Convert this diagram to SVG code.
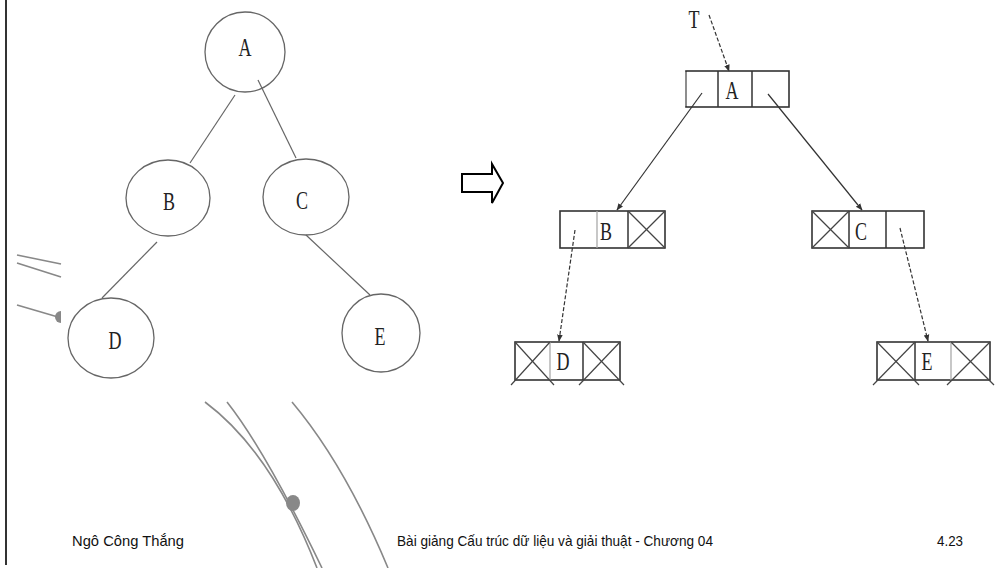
<svg xmlns="http://www.w3.org/2000/svg" width="999" height="568" viewBox="0 0 999 568">
<style>
.bg{fill:#fff}
.circ{fill:none;stroke:#666;stroke-width:1.3}
.edge{stroke:#666;stroke-width:1.2;fill:none}
.lbl{font-family:"Liberation Serif","Times New Roman",serif;font-size:25px;fill:#222;text-anchor:middle}
.box{fill:#fff;stroke:#333;stroke-width:1.6}
.div{stroke:#333;stroke-width:1.5}
.ldiv{stroke:#aaa;stroke-width:1.3}
.x{stroke:#444;stroke-width:1.2}
.ptr{stroke:#333;stroke-width:1.2;fill:none}
.dash{stroke-dasharray:4 2}
.deco{stroke:#888;stroke-width:1.6;fill:none}
.foot{font-family:"Liberation Sans",Arial,sans-serif;font-size:15px;fill:#111}
</style>
<defs>
<marker id="ah" viewBox="0 0 10 10" refX="9" refY="5" markerWidth="7" markerHeight="7" orient="auto" markerUnits="userSpaceOnUse">
<path d="M0,1 L10,5 L0,9 Z" fill="#333"/>
</marker>
</defs>
<rect class="bg" x="0" y="0" width="999" height="568"/>
<line x1="6" y1="0" x2="6" y2="565" stroke="#333" stroke-width="2"/>

<g id="decoration">
<line class="deco" x1="17" y1="255" x2="61" y2="264"/>
<line class="deco" x1="17" y1="263" x2="61" y2="277"/>
<line class="deco" x1="17" y1="305" x2="58" y2="317"/>
<path d="M61,311 A6,6 0 0 0 61,323 Z" fill="#888"/>
<path class="deco" d="M205,402 Q272,452 317,568"/>
<path class="deco" d="M227,402 Q265,450 322,568"/>
<path class="deco" d="M292,402 Q345,465 388,568"/>
<ellipse cx="293" cy="503" rx="7" ry="8" fill="#888"/>
</g>

<g id="tree-edges">
<line class="edge" x1="235" y1="95" x2="190" y2="163"/>
<line class="edge" x1="258" y1="80" x2="296" y2="158"/>
<line class="edge" x1="157" y1="242" x2="102" y2="298"/>
<line class="edge" x1="306" y1="235" x2="370" y2="295"/>
</g>
<g id="tA"><ellipse class="circ" cx="245" cy="52" rx="40" ry="40"/><text class="lbl" transform="translate(245,56) scale(0.72,1)">A</text></g>
<g id="tB"><ellipse class="circ" cx="168" cy="198" rx="42" ry="38"/><text class="lbl" transform="translate(169,210) scale(0.72,1)">B</text></g>
<g id="tC"><ellipse class="circ" cx="306" cy="197" rx="43" ry="38"/><text class="lbl" transform="translate(302,209) scale(0.72,1)">C</text></g>
<g id="tD"><ellipse class="circ" cx="111" cy="338" rx="43" ry="40"/><text class="lbl" transform="translate(115,349) scale(0.72,1)">D</text></g>
<g id="tE"><ellipse class="circ" cx="381" cy="333" rx="39" ry="39"/><text class="lbl" transform="translate(380,345) scale(0.72,1)">E</text></g>

<g id="transform-arrow">
<polygon points="462,174 492,174 492,164 503,183 492,203 492,192 462,192" fill="#fff" stroke="#000" stroke-width="2"/>
</g>

<g id="T"><text class="lbl" transform="translate(694,28) scale(0.72,1)">T</text></g>

<g id="nA">
<rect class="box" x="686" y="71" width="103" height="36"/>
<line class="ldiv" x1="686" y1="72" x2="686" y2="106"/>
<line class="div" x1="718" y1="71" x2="718" y2="107"/>
<line class="div" x1="752" y1="71" x2="752" y2="107"/>
<text class="lbl" transform="translate(732,99) scale(0.72,1)">A</text>
</g>
<g id="nB">
<rect class="box" x="560" y="211" width="105" height="37"/>
<line class="ldiv" x1="597" y1="211" x2="597" y2="248"/>
<line class="div" x1="628" y1="211" x2="628" y2="248"/>
<line class="x" x1="628" y1="211" x2="665" y2="248"/>
<line class="x" x1="665" y1="211" x2="628" y2="248"/>
<text class="lbl" transform="translate(606,240) scale(0.72,1)">B</text>
</g>
<g id="nC">
<rect class="box" x="812" y="211" width="112" height="37"/>
<line class="div" x1="849" y1="211" x2="849" y2="248"/>
<line class="div" x1="886" y1="211" x2="886" y2="248"/>
<line class="x" x1="812" y1="211" x2="849" y2="248"/>
<line class="x" x1="849" y1="211" x2="812" y2="248"/>
<text class="lbl" transform="translate(861,240) scale(0.72,1)">C</text>
</g>
<g id="nD">
<rect class="box" x="515" y="342" width="105" height="38"/>
<line class="ldiv" x1="550" y1="342" x2="550" y2="380"/>
<line class="div" x1="583" y1="342" x2="583" y2="380"/>
<line class="x" x1="515" y1="342" x2="554" y2="385"/>
<line class="x" x1="550" y1="342" x2="511" y2="385"/>
<line class="x" x1="583" y1="342" x2="624" y2="385"/>
<line class="x" x1="620" y1="342" x2="579" y2="385"/>
<text class="lbl" transform="translate(563,370) scale(0.72,1)">D</text>
</g>
<g id="nE">
<rect class="box" x="877" y="342" width="113" height="38"/>
<line class="div" x1="915" y1="342" x2="915" y2="380"/>
<line class="ldiv" x1="951" y1="342" x2="951" y2="380"/>
<line class="x" x1="877" y1="342" x2="919" y2="385"/>
<line class="x" x1="915" y1="342" x2="873" y2="385"/>
<line class="x" x1="951" y1="342" x2="994" y2="385"/>
<line class="x" x1="990" y1="342" x2="947" y2="385"/>
<text class="lbl" transform="translate(927,370) scale(0.72,1)">E</text>
</g>

<g id="connectors">
<line class="ptr dash" x1="709" y1="15" x2="729" y2="71" marker-end="url(#ah)"/>
<line class="ptr" x1="702" y1="93" x2="617" y2="210" marker-end="url(#ah)"/>
<line class="ptr" x1="768" y1="94" x2="862" y2="210" marker-end="url(#ah)"/>
<line class="ptr dash" x1="575" y1="230" x2="559" y2="341" marker-end="url(#ah)"/>
<line class="ptr dash" x1="900" y1="228" x2="928" y2="341" marker-end="url(#ah)"/>
</g>

<g id="footer">
<text class="foot" x="72" y="546" textLength="112" lengthAdjust="spacingAndGlyphs">Ngô Công Thắng</text>
<text class="foot" x="397" y="546" textLength="316" lengthAdjust="spacingAndGlyphs">Bài giảng Cấu trúc dữ liệu và giải thuật  -  Chương 04</text>
<text class="foot" x="937" y="546" textLength="26" lengthAdjust="spacingAndGlyphs">4.23</text>
</g>
</svg>
